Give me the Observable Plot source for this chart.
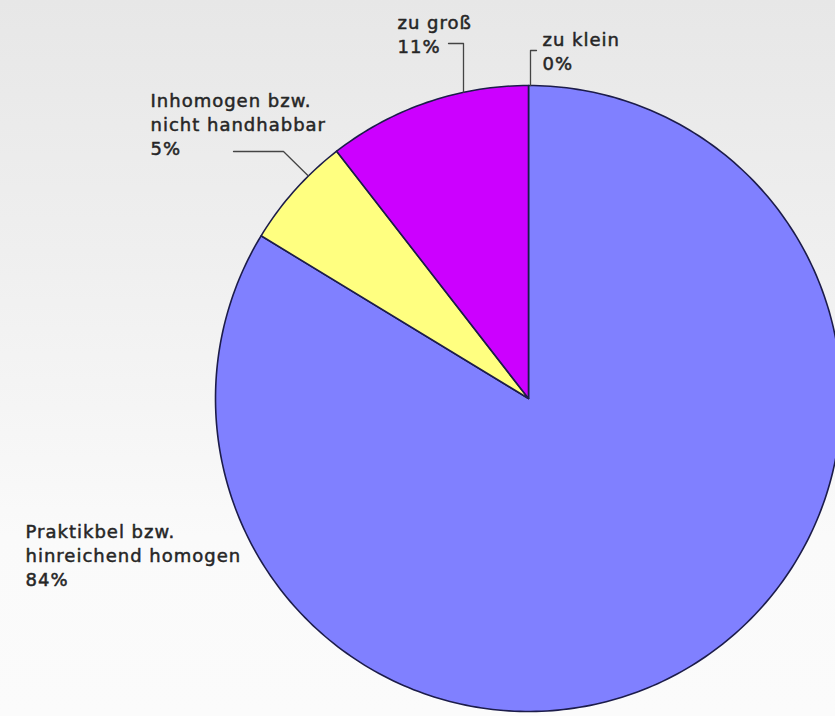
<!DOCTYPE html>
<html>
<head>
<meta charset="utf-8">
<script src="https://cdn.jsdelivr.net/npm/d3@7"></script>
<script src="https://cdn.jsdelivr.net/npm/@observablehq/plot@0.6"></script>
<style>
  html, body { margin: 0; padding: 0; }
  body {
    width: 835px; height: 716px; overflow: hidden;
    background: linear-gradient(to bottom, #e7e7e7 0%, #efefef 35%, #fafafa 75%, #fbfbfb 100%);
  }
  #chart svg text { letter-spacing: 1px; }
</style>
</head>
<body>
<div id="chart"></div>
<script>
// ---- data ----
const categories = ["Praktikbel bzw. hinreichend homogen", "Inhomogen bzw. nicht handhabbar", "zu groß", "zu klein"];
const labelLines = [
  ["Praktikbel bzw.", "hinreichend homogen", "84%"],
  ["Inhomogen bzw.", "nicht handhabbar", "5%"],
  ["zu groß", "11%"],
  ["zu klein", "0%"]
];
const shares = [83.7, 5.8, 10.5, 0];
const colors = ["#8080ff", "#ffff80", "#cc00ff", "#66cc66"];

// ---- layout ----
const W = 835, H = 716;
const CX = 528, CY = 398, R = 313;
// label block centres, leader elbow/tail points and the in-slice fraction the leader points at
const labelLayout = [
  {x: 25,  y: 554, leader: null},
  {x: 150, y: 123, leader: {tail: [233, 151], elbow: [283, 151], frac: 0.67}},
  {x: 397, y: 33,  leader: {tail: [448, 43],  elbow: [463, 43],  frac: 0.68, vertical: true}},
  {x: 542, y: 50,  leader: {tail: [536, 50],  elbow: [530, 50],  frac: 1.0, vertical: true}}
];

const pie = d3.pie().sort(null).value(d => d.share).startAngle(0).endAngle(2 * Math.PI);
const rows = categories.map((c, i) => ({cat: c, share: shares[i]}));
const arcs = pie(rows);

// slice polygons in pixel-offset coordinates relative to the centre (y downward)
const pts = [];
arcs.forEach(a => {
  if (a.endAngle - a.startAngle <= 0) return;
  const n = Math.max(2, Math.ceil((a.endAngle - a.startAngle) / (2 * Math.PI) * 360));
  pts.push({cat: a.data.cat, x: 0, y: 0});
  for (let k = 0; k <= n; k++) {
    const t = a.startAngle + (a.endAngle - a.startAngle) * k / n;
    pts.push({cat: a.data.cat, x: R * Math.sin(t), y: -R * Math.cos(t)});
  }
  pts.push({cat: a.data.cat, x: 0, y: 0});
});

// leaders
const leaderPts = [];
labelLayout.forEach((L, i) => {
  if (!L.leader) return;
  const a = arcs[i];
  const t = a.startAngle + (a.endAngle - a.startAngle) * L.leader.frac;
  const ex = L.leader.elbow[0] - CX;
  let end;
  if (L.leader.vertical) {
    end = [ex, -Math.sqrt(R * R - ex * ex)];
  } else {
    end = [R * Math.sin(t), -R * Math.cos(t)];
  }
  leaderPts.push({id: i, x: L.leader.tail[0] - CX, y: L.leader.tail[1] - CY});
  leaderPts.push({id: i, x: L.leader.elbow[0] - CX, y: L.leader.elbow[1] - CY});
  leaderPts.push({id: i, x: end[0], y: end[1]});
});

const labels = labelLayout.map((L, i) => ({text: labelLines[i].join("\n"), x: L.x - CX, y: L.y - CY}));

const chart = Plot.plot({
  width: W, height: H,
  margin: 0,
  style: {background: "transparent"},
  x: {domain: [-CX, W - CX], range: [0, W], axis: null},
  y: {domain: [-CY, H - CY], range: [0, H], axis: null},
  color: {domain: categories, range: colors},
  marks: [
    Plot.line(pts, {x: "x", y: "y", z: "cat", fill: "cat", stroke: "#1c1c4a", strokeWidth: 1.6, strokeLinejoin: "round", curve: "linear"}),
    Plot.line(leaderPts, {x: "x", y: "y", z: "id", stroke: "#444", strokeWidth: 1.3}),
    Plot.text(labels, {x: "x", y: "y", text: "text", textAnchor: "start", lineAnchor: "middle",
      lineHeight: 1.33, fontSize: 18, fontFamily: "DejaVu Sans", fill: "#262626",
      stroke: "#262626", strokeWidth: 0.5})
  ]
});
document.getElementById("chart").appendChild(chart);
</script>
</body>
</html>
